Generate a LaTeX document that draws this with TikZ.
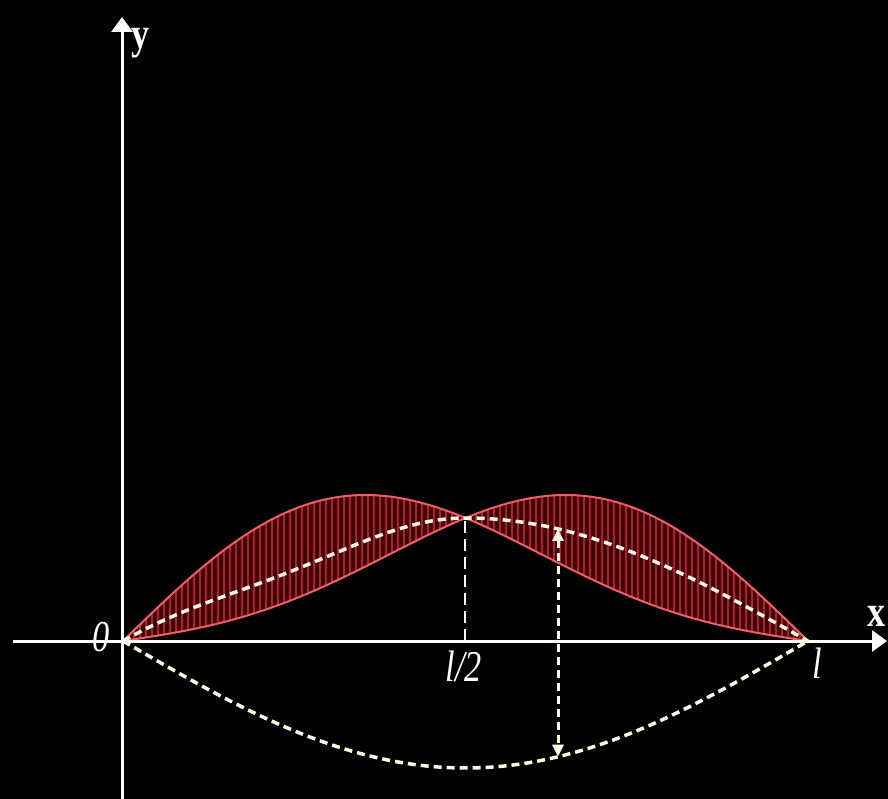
\documentclass[tikz,border=0pt]{standalone}
\usepackage{fontspec}
\setmainfont{Liberation Serif}
\usetikzlibrary{arrows.meta}
\definecolor{cream}{RGB}{255,250,225}
\definecolor{edgered}{RGB}{240,95,105}
\definecolor{hatchred}{RGB}{190,25,40}
\definecolor{darkfill}{RGB}{55,0,6}
\begin{document}
\begin{tikzpicture}[x=1pt,y=-1pt,
  declare function={
    fa(\t)=123*sin(\t/685*180)+45*sin(\t/685*360);
    fb(\t)=123*sin(\t/685*180)-45*sin(\t/685*360);
    fc(\t)=123*sin(\t/685*180)-16*(\t<342.5)*(sin(\t/685*360))^2;
    fd(\t)=127*sin(\t/685*180);
  },
  axis/.style={white,line width=3pt,-{Triangle[width=21pt,length=15pt]}},
  envelope/.style={edgered,line width=2pt},
  hatch/.style={hatchred,line width=2.2pt},
  dashcurve/.style={cream,line width=3.5pt,dash pattern=on 8pt off 5pt},
  guide/.style={cream,line width=2.5pt,dash pattern=on 12pt off 6pt},
  lab/.style={white,inner sep=0pt,font=\fontsize{44}{44}\selectfont\itshape,xscale=0.78},
  axlab/.style={white,inner sep=0pt,font=\fontsize{44}{44}\selectfont\bfseries,xscale=0.82}
]
\fill[black] (0,0) rectangle (888,799);
\useasboundingbox (0,0) rectangle (888,799);

% key points
\coordinate (O) at (123,641);
\coordinate (L) at (808,641);
\coordinate (M) at (465,641);
\coordinate (C) at (465,518);
\coordinate (xs) at (13,641);
\coordinate (xe) at (887,641);
\coordinate (ys) at (122,799);
\coordinate (ye) at (122,17);
\coordinate (Pt) at ({123+435},{641-fc(435)});
\coordinate (Pb) at ({123+435},{641+fd(435)});

% shaded region between the two red curves
\fill[darkfill] plot[domain=0:685,samples=140] ({123+\x},{641-fa(\x)})
  -- plot[domain=685:0,samples=140] ({123+\x},{641-fb(\x)}) -- cycle;
\foreach \t in {5,11,...,683}
  \draw[hatch] ({123+\t},{641-fa(\t)}) -- ({123+\t},{641-fb(\t)});
\draw[envelope] plot[domain=0:685,samples=140] ({123+\x},{641-fa(\x)});
\draw[envelope] plot[domain=0:685,samples=140] ({123+\x},{641-fb(\x)});

% axes
\draw[axis] (xs) -- (xe);
\draw[axis] (ys) -- (ye);

% dashed curves
\draw[dashcurve] plot[domain=0:685,samples=140] ({123+\x},{641-fc(\x)});
\draw[dashcurve] plot[domain=0:685,samples=140] ({123+\x},{641+fd(\x)});

% guide line at l/2
\draw[guide] (M) -- (C);

% double arrow
\draw[cream,line width=3pt,dash pattern=on 8pt off 5pt,
  {Triangle[width=11pt,length=12pt]}-{Triangle[width=11pt,length=12pt]}] (Pt) -- (Pb);

% labels
\node[lab] (n0) at (101,637) {0};
\node[lab] (nh) at (464,666) {l/2};
\node[lab] (nl) at (817,663) {l};
\node[axlab] (ny) at (141,43) {y};
\node[axlab] (nx) at (877,616) {x};
\end{tikzpicture}
\end{document}
